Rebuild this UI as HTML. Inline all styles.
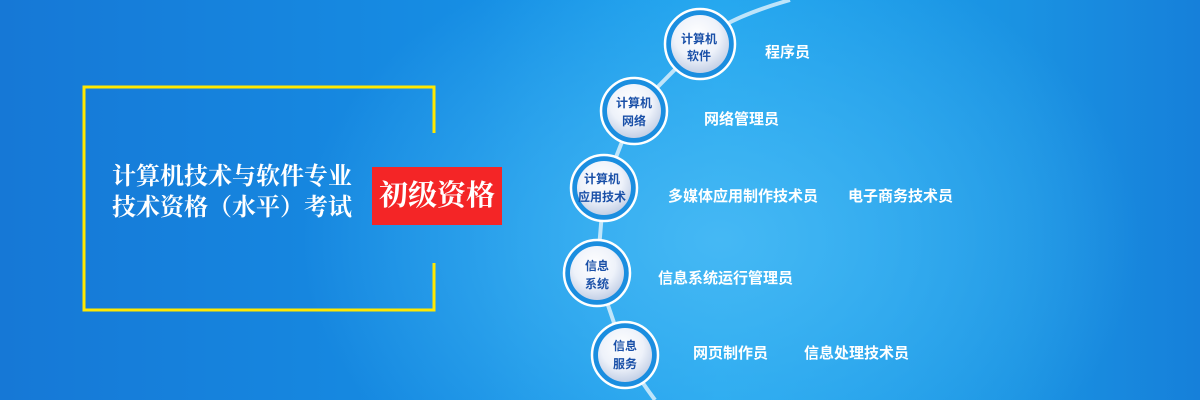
<!DOCTYPE html>
<html><head><meta charset="utf-8"><style>
body{margin:0}
#c{position:relative;width:1200px;height:400px;overflow:hidden;font-family:"Liberation Sans","Noto Sans CJK SC",sans-serif;
background:radial-gradient(ellipse 420px 300px at 720px 240px,#45b8f4 0%,rgba(40,160,235,0) 100%),linear-gradient(90deg,#1678d6 0%,#168ee4 40%,#1ea4ee 60%,#1a92e2 85%,#1680da 100%);}
.t{position:absolute;color:#fff;font-weight:bold;font-size:15px;white-space:nowrap}
</style></head><body><div id="c">
<svg width="1200" height="400" style="position:absolute;left:0;top:0">
<path d="M790,0 Q720,20 700,44 L634,111 L604,188 L597,273 L625,355 Q640,380 655,400" stroke="#d8eefc" stroke-width="4" fill="none" opacity="0.85"/>
<path d="M434,133 V87 H84 V310 H434 V263" stroke="#ffe800" stroke-width="3" fill="none"/>
<defs><radialGradient id="g" cx="45%" cy="35%" r="65%"><stop offset="0" stop-color="#ffffff"/><stop offset="0.6" stop-color="#eef2fa"/><stop offset="1" stop-color="#c4d0e6"/></radialGradient></defs>
<g>
<circle cx="700" cy="44" r="35" fill="#1a8ee0" stroke="#fff" stroke-width="2.5"/><circle cx="700" cy="44" r="29" fill="url(#g)"/>
<circle cx="634" cy="111" r="33" fill="#1a8ee0" stroke="#fff" stroke-width="2.5"/><circle cx="634" cy="111" r="27" fill="url(#g)"/>
<circle cx="604" cy="188" r="33" fill="#1a8ee0" stroke="#fff" stroke-width="2.5"/><circle cx="604" cy="188" r="27" fill="url(#g)"/>
<circle cx="597" cy="273" r="33" fill="#1a8ee0" stroke="#fff" stroke-width="2.5"/><circle cx="597" cy="273" r="27" fill="url(#g)"/>
<circle cx="625" cy="355" r="33" fill="#1a8ee0" stroke="#fff" stroke-width="2.5"/><circle cx="625" cy="355" r="27" fill="url(#g)"/>
</g>
<g font-family="Liberation Sans,Noto Sans CJK SC,sans-serif" font-size="12" font-weight="bold" fill="#1a50a8" text-anchor="middle">
<text x="699" y="43">计算机</text><text x="699" y="60">软件</text>
<text x="634" y="107">计算机</text><text x="634" y="125">网络</text>
<text x="602" y="183">计算机</text><text x="602" y="201">应用技术</text>
<text x="597" y="270">信息</text><text x="597" y="288">系统</text>
<text x="625" y="350">信息</text><text x="625" y="368">服务</text>
</g>
</svg>
<div class="t" style="left:112px;top:162px;font-size:24px;line-height:31px;font-family:'Liberation Serif','Noto Serif CJK SC',serif">计算机技术与软件专业<br>技术资格（水平）考试</div>
<div style="position:absolute;left:372px;top:167px;width:130px;height:58px;background:#f42526;color:#fff;font-size:29px;font-weight:bold;line-height:58px;text-align:center;font-family:'Liberation Serif','Noto Serif CJK SC',serif">初级资格</div>
<div class="t" style="left:765px;top:41px">程序员</div>
<div class="t" style="left:704px;top:108px">网络管理员</div>
<div class="t" style="left:668px;top:185px">多媒体应用制作技术员</div>
<div class="t" style="left:848px;top:185px">电子商务技术员</div>
<div class="t" style="left:658px;top:267px">信息系统运行管理员</div>
<div class="t" style="left:693px;top:342px">网页制作员</div>
<div class="t" style="left:804px;top:342px">信息处理技术员</div>
</div></body></html>
